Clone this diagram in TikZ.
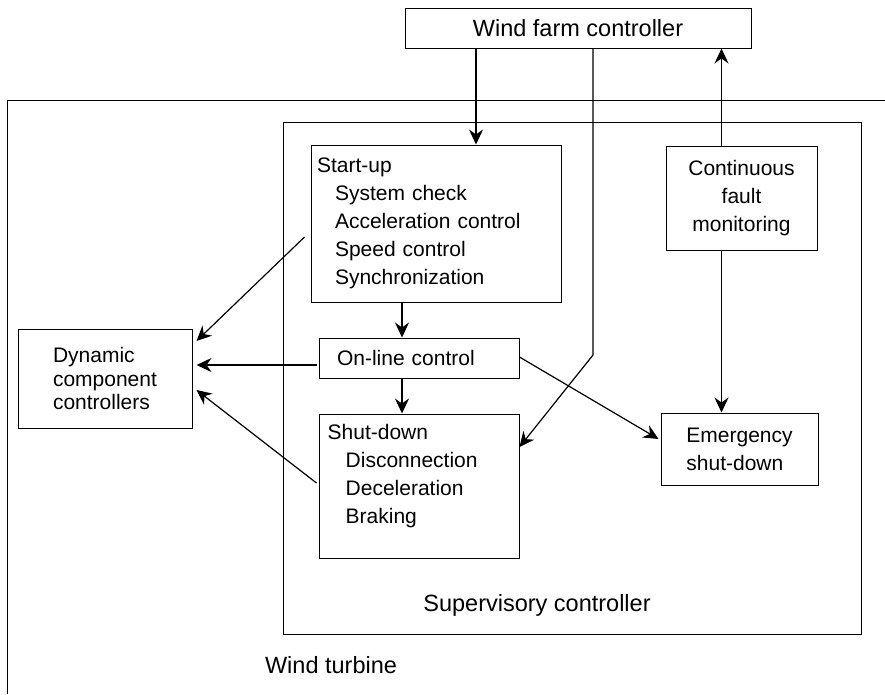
\documentclass[tikz,border=0pt]{standalone}
\usepackage{fontspec}
\setmainfont{Liberation Sans}
\usetikzlibrary{arrows.meta}

\begin{document}
\begin{tikzpicture}[
    x=1pt, y=-1pt,
    font=\fontsize{21}{28}\selectfont,
    block/.style={draw, line width=1pt, inner sep=0pt, align=center},
    caption/.style={inner sep=0pt, font=\fontsize{23.5}{28}\selectfont},
    flow/.style={-{Stealth[length=15pt, width=14pt, inset=5pt]}, line width=1.2pt}
]
\useasboundingbox (0,0) rectangle (885,694);

% wind turbine frame
\draw[line width=1pt] (885,100) -- (7,100) -- (7,694);
\node[caption] (turbine) at (331,665) {Wind turbine};

\node[block, minimum width=578pt, minimum height=512pt] (super) at (572,378) {};
\node[caption] (superlbl) at (537,605) {Supervisory controller};

\node[block, caption, draw, minimum width=346pt, minimum height=40pt] (farm) at (578,28) {Wind farm controller};

\node[block, minimum width=250pt, minimum height=157pt, inner xsep=6pt, text width=238pt, align=left] (startup) at (436,223.5)
    {Start-up\\\hspace*{18pt}System check\\\hspace*{18pt}Acceleration control\\\hspace*{18pt}Speed control\\\hspace*{18pt}Synchronization};

\node[block, minimum width=151pt, minimum height=104pt] (contin) at (741.5,198) {Continuous\\fault\\monitoring};

\node[block, minimum width=200pt, minimum height=40pt, inner xsep=18pt, text width=164pt, align=left] (online) at (419,358) {On-line control};

\node[block, minimum width=200pt, minimum height=144pt] (shut) at (419,486) {};
\node[anchor=north west, inner sep=0pt, align=left] (shuttext) at ([xshift=9pt, yshift=-11pt]shut.north west)
    {Shut-down\\\hspace*{18pt}Disconnection\\\hspace*{18pt}Deceleration\\\hspace*{18pt}Braking};

\node[block, minimum width=157pt, minimum height=72pt, align=left] (emerg) at (739.5,449) {Emergency\\ shut-down};

\node[block, minimum width=174pt, minimum height=99pt, align=left, font=\fontsize{21}{23.5}\selectfont] (dynamic) at (105,378.5) {Dynamic\\component\\controllers};

% connectors
\coordinate (cmdin) at ([xshift=40pt]startup.north);
\coordinate (cmdshut) at (593,355);
\coordinate (faultup) at ([xshift=-20pt]contin.north);
\coordinate (faultdn) at ([xshift=-20pt]contin.south);
\coordinate (seqa) at ([xshift=-17pt]online.north);
\coordinate (seqb) at ([xshift=-17pt]shut.north);

\draw[flow] (cmdin |- farm.south) -- (cmdin);
\draw[flow] (cmdshut |- farm.south) -- (cmdshut) -- ([yshift=39pt]shut.east);
\draw[flow] (faultup) -- (faultup |- farm.south);
\draw[flow] (faultdn) -- (faultdn |- emerg.north);
\draw[flow] (seqa |- startup.south) -- (seqa);
\draw[flow] (online.south -| seqb) -- (seqb);
\draw[flow] ([yshift=1pt]online.east) -- ([xshift=-2pt, yshift=10pt]emerg.west);

\draw[flow] ([xshift=-6pt, yshift=-13.5pt]startup.west) -- ([xshift=4pt, yshift=37.5pt]dynamic.east);
\draw[flow] ([xshift=-2pt, yshift=-7pt]online.west) -- ([xshift=4pt, yshift=13.5pt]dynamic.east);
\draw[flow] ([xshift=-2pt, yshift=3pt]shut.west) -- ([xshift=4pt, yshift=-11.5pt]dynamic.east);

\end{tikzpicture}
\end{document}
